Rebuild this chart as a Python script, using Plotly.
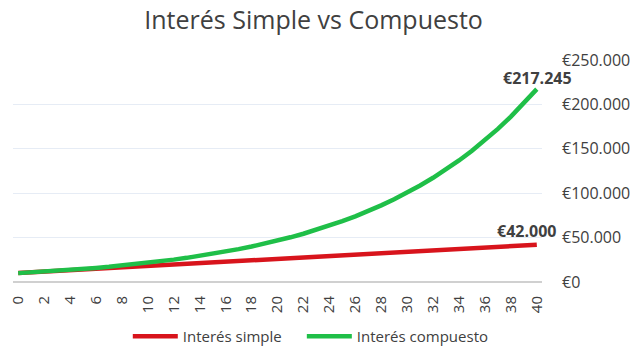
import plotly.graph_objects as go

years = list(range(0, 41))
simple = [10000, 10800, 11600, 12400, 13200, 14000, 14800, 15600, 16400, 17200,
          18000, 18800, 19600, 20400, 21200, 22000, 22800, 23600, 24400, 25200,
          26000, 26800, 27600, 28400, 29200, 30000, 30800, 31600, 32400, 33200,
          34000, 34800, 35600, 36400, 37200, 38000, 38800, 39600, 40400, 41200, 42000]
compound = [10000, 10800, 11664, 12597, 13605, 14693, 15869, 17138, 18509, 19990,
            21589, 23316, 25182, 27196, 29372, 31722, 34259, 37000, 39960, 43157,
            46610, 50338, 54365, 58715, 63412, 68485, 73964, 79881, 86271, 93173,
            100627, 108677, 117371, 126760, 136901, 147853, 159682, 172456, 186253, 201153, 217245]
x_ticks = list(range(0, 41, 2))
y_ticks = [0, 50000, 100000, 150000, 200000, 250000]
y_labels = ["€0", "€50.000", "€100.000", "€150.000", "€200.000", "€250.000"]
end_labels = ["€42.000", "€217.245"]

FONT = "Open Sans"
GREY = "#404040"

fig = go.Figure()
fig.add_trace(go.Scatter(x=years, y=simple, mode="lines", name="Interés simple",
                         line=dict(color="#d8141c", width=4.5), legend="legend"))
fig.add_trace(go.Scatter(x=years, y=compound, mode="lines", name="Interés compuesto",
                         line=dict(color="#1fbf48", width=4.5), legend="legend2"))

fig.add_annotation(x=years[-1], y=compound[-1], text="<b>" + end_labels[1] + "</b>", showarrow=False,
                   yshift=11, xshift=1, font=dict(family=FONT, size=16, color=GREY))
fig.add_annotation(x=years[-1], y=simple[-1], text="<b>" + end_labels[0] + "</b>", showarrow=False,
                   yshift=14, xshift=-10, font=dict(family=FONT, size=16, color=GREY))

leg_common = dict(orientation="h", xanchor="left", y=-0.245, yanchor="middle",
                  font=dict(family=FONT, size=15, color=GREY), itemwidth=45,
                  bgcolor="rgba(0,0,0,0)")

fig.update_layout(
    width=640, height=360,
    margin=dict(l=7, r=98, t=60, b=74),
    paper_bgcolor="white", plot_bgcolor="white",
    title=dict(text="Interés Simple vs Compuesto", x=0.49, xanchor="center", y=0.945, yanchor="middle",
               font=dict(family=FONT, size=25, color=GREY)),
    showlegend=True,
    legend=dict(x=0.217, **leg_common),
    legend2=dict(x=0.546, **leg_common),
    xaxis=dict(range=[-0.4, 40.4], tickvals=x_ticks, tickangle=-90, showgrid=False,
               showline=False, zeroline=False, ticks="", ticklabelstandoff=10,
               tickfont=dict(family=FONT, size=15, color=GREY)),
    yaxis=dict(range=[0, 250000], tickvals=y_ticks, ticktext=y_labels, side="right",
               gridcolor="#e6ecf5", gridwidth=1, zeroline=True, zerolinecolor="#d0d0d0", zerolinewidth=1.5,
               ticks="", ticklabelstandoff=19,
               tickfont=dict(family=FONT, size=16, color=GREY)),
)

fig.write_html("out.html")
